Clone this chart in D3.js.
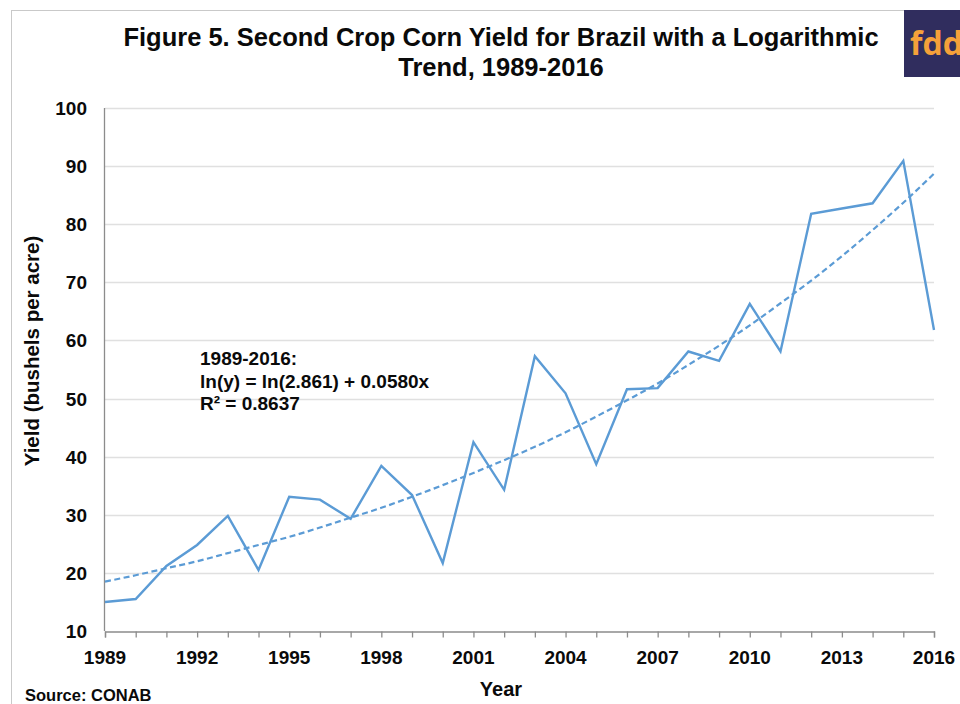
<!DOCTYPE html>
<html>
<head>
<meta charset="utf-8">
<script src="https://cdn.jsdelivr.net/npm/d3@7"></script>
<style>
  body { margin: 0; background: #fff; }
  svg { font-family: "Liberation Sans", Arial, sans-serif; }
</style>
</head>
<body>
<div id="chart"></div>
<script>
// data
var years = [1989, 1990, 1991, 1992, 1993, 1994, 1995, 1996, 1997, 1998, 1999, 2000, 2001, 2002,
             2003, 2004, 2005, 2006, 2007, 2008, 2009, 2010, 2011, 2012, 2013, 2014, 2015, 2016];
var yieldVals = [15.0, 15.5, 21.2, 24.8, 29.8, 20.5, 33.1, 32.6, 29.3, 38.4, 33.4, 21.7, 42.5, 34.3,
                 57.3, 50.9, 38.7, 51.6, 51.8, 58.1, 56.5, 66.3, 58.1, 81.8, 82.7, 83.6, 90.9, 61.8];
var trendVals = [18.5, 19.6, 20.8, 22.0, 23.4, 24.8, 26.2, 27.8, 29.5, 31.2, 33.1, 35.1, 37.2, 39.4,
                 41.7, 44.2, 46.9, 49.7, 52.6, 55.8, 59.1, 62.6, 66.4, 70.3, 74.5, 79.0, 83.7, 88.7];
var yTicks = [10, 20, 30, 40, 50, 60, 70, 80, 90, 100];
var xTickLabels = [1989, 1992, 1995, 1998, 2001, 2004, 2007, 2010, 2013, 2016];
var equation = ["1989-2016:", "ln(y) = ln(2.861) + 0.0580x", "R\u00b2 = 0.8637"];

var W = 960, H = 704;
var margin = {left: 105, right: 26, top: 108, bottom: 73};

var svg = d3.select('#chart').append('svg')
    .attr('width', W)
    .attr('height', H);

// outer frame
svg.append('rect')
    .attr('x', 11.5).attr('y', 10.5)
    .attr('width', 1000).attr('height', 800)
    .attr('fill', 'none')
    .attr('stroke', '#c9c9c9')
    .attr('stroke-width', 1);

var x = d3.scaleLinear()
    .domain([1989, 2016])
    .range([margin.left, W - margin.right]);

var y = d3.scaleLinear()
    .domain([10, 100])
    .range([H - margin.bottom, margin.top]);

// gridlines
svg.append('g')
    .selectAll('line')
    .data(yTicks.slice(1)).enter()
    .append('line')
    .attr('x1', x(1989)).attr('x2', x(2016))
    .attr('y1', function(d) { return Math.round(y(d)) + 0.5; })
    .attr('y2', function(d) { return Math.round(y(d)) + 0.5; })
    .attr('stroke', '#e0e0e0')
    .attr('stroke-width', 1.3);

// y labels
svg.append('g')
    .selectAll('text')
    .data(yTicks).enter()
    .append('text')
    .attr('x', 87)
    .attr('y', function(d) { return y(d) + 7; })
    .attr('text-anchor', 'end')
    .style('font-size', '19px')
    .style('font-weight', 'bold')
    .attr('fill', '#0a0a0a')
    .text(function(d) { return d; });

// y axis line
svg.append('line')
    .attr('x1', x(1989) - 0.5).attr('x2', x(1989) - 0.5)
    .attr('y1', y(100)).attr('y2', y(10))
    .attr('stroke', '#8c8c8c')
    .attr('stroke-width', 1.3);

// x axis
var xAxis = d3.axisBottom(x)
    .tickValues(years)
    .tickSize(6)
    .tickFormat('');

var gx = svg.append('g')
    .attr('transform', `translate(0,${Math.round(y(10)) + 0.5})`)
    .call(xAxis);
gx.select('.domain').attr('stroke', '#8c8c8c').attr('stroke-width', 1.3);
gx.selectAll('.tick line').attr('stroke', '#8c8c8c').attr('stroke-width', 1.3);

svg.append('g')
    .selectAll('text')
    .data(xTickLabels).enter()
    .append('text')
    .attr('x', function(d) { return x(d); })
    .attr('y', 664)
    .attr('text-anchor', 'middle')
    .style('font-size', '19px')
    .style('font-weight', 'bold')
    .attr('fill', '#0a0a0a')
    .text(function(d) { return d; });

// trend line
var trendLine = d3.line()
    .x(function(d, i) { return x(years[i]); })
    .y(function(d) { return y(d); })
    .curve(d3.curveMonotoneX);

svg.append('path')
    .datum(trendVals)
    .attr('d', trendLine)
    .attr('fill', 'none')
    .attr('stroke', '#5b9bd5')
    .attr('stroke-width', 2.2)
    .attr('stroke-dasharray', '6,3.5');

// yield line
var yieldLine = d3.line()
    .x(function(d, i) { return x(years[i]); })
    .y(function(d) { return y(d); });

svg.append('path')
    .datum(yieldVals)
    .attr('d', yieldLine)
    .attr('fill', 'none')
    .attr('stroke', '#5b9bd5')
    .attr('stroke-width', 2.4)
    .attr('stroke-linejoin', 'miter');

// equation text
svg.append('g')
    .selectAll('text')
    .data(equation).enter()
    .append('text')
    .attr('x', 200)
    .attr('y', function(d, i) { return 365 + i * 22.5; })
    .style('font-size', '19px')
    .style('font-weight', 'bold')
    .attr('fill', '#0a0a0a')
    .text(function(d) { return d; });

// title
svg.append('text')
    .attr('x', 501)
    .attr('y', 46)
    .attr('text-anchor', 'middle')
    .style('font-size', '25.5px')
    .style('font-weight', 'bold')
    .attr('fill', '#0a0a0a')
    .text('Figure 5. Second Crop Corn Yield for Brazil with a Logarithmic');

svg.append('text')
    .attr('x', 501)
    .attr('y', 76)
    .attr('text-anchor', 'middle')
    .style('font-size', '25.5px')
    .style('font-weight', 'bold')
    .attr('fill', '#0a0a0a')
    .text('Trend, 1989-2016');

// axis titles
svg.append('text')
    .attr('transform', 'translate(39,351) rotate(-90)')
    .attr('text-anchor', 'middle')
    .style('font-size', '20.5px')
    .style('font-weight', 'bold')
    .attr('fill', '#0a0a0a')
    .text('Yield (bushels per acre)');

svg.append('text')
    .attr('x', 501)
    .attr('y', 696)
    .attr('text-anchor', 'middle')
    .style('font-size', '20px')
    .style('font-weight', 'bold')
    .attr('fill', '#0a0a0a')
    .text('Year');

svg.append('text')
    .attr('x', 25)
    .attr('y', 701)
    .style('font-size', '16.5px')
    .style('font-weight', 'bold')
    .attr('fill', '#0a0a0a')
    .text('Source: CONAB');

// logo
svg.append('rect')
    .attr('x', 904).attr('y', 10)
    .attr('width', 60).attr('height', 67)
    .attr('fill', '#302d5e');

svg.append('text')
    .attr('x', 910)
    .attr('y', 55)
    .style('font-size', '32px')
    .style('font-weight', 'bold')
    .style('font-family', '"Open Sans", sans-serif')
    .attr('fill', '#f5a13a')
    .text('fdd');
</script>
</body>
</html>
